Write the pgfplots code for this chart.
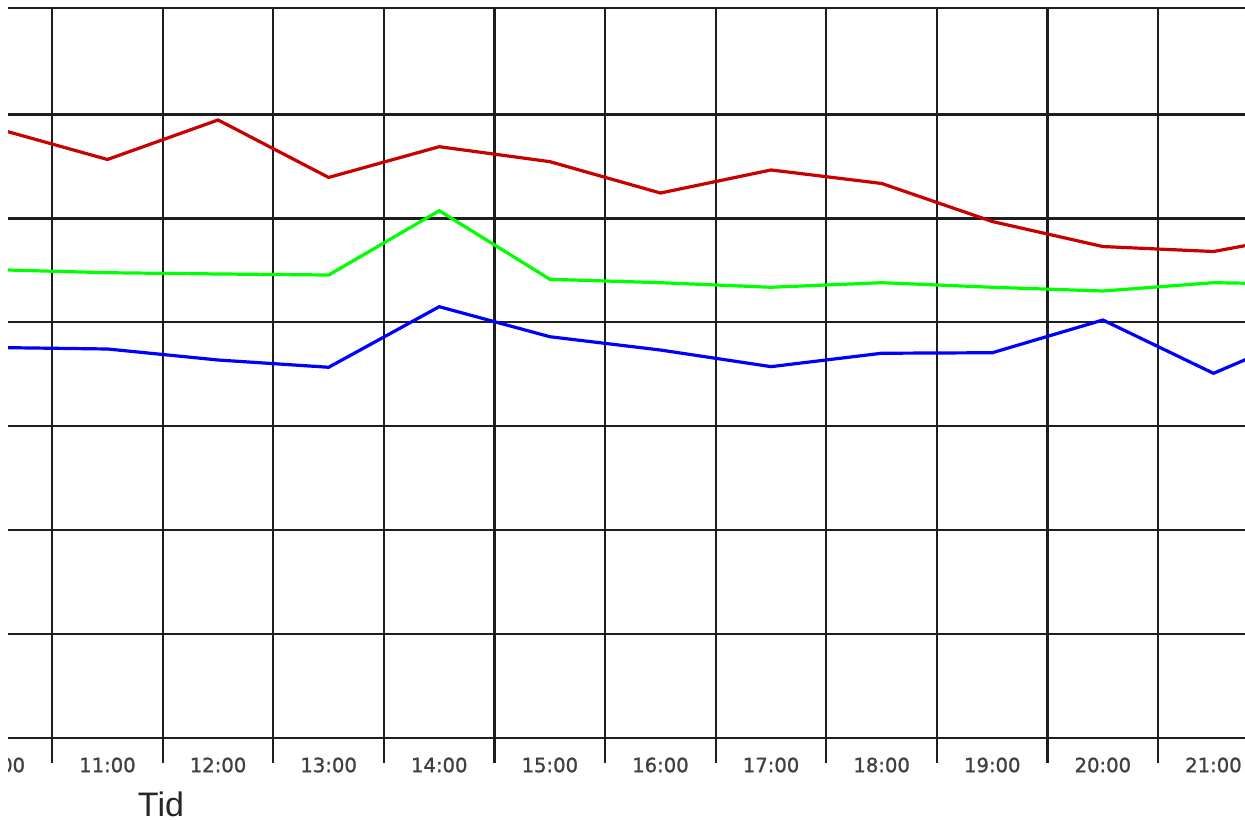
\documentclass[border=0pt]{standalone}
\usepackage{pgfplots}
\pgfplotsset{compat=1.18}
\usepackage{fontspec}
\setmainfont{DejaVu Sans}
\newfontfamily\tickfont[FakeBold=1.2]{DejaVu Sans}
\newfontfamily\labfont{Liberation Sans}
\definecolor{cred}{RGB}{200,0,0}
\definecolor{cgreen}{RGB}{0,255,0}
\definecolor{cblue}{RGB}{0,0,255}
\definecolor{cgrid}{RGB}{30,30,30}
\begin{document}
\begin{tikzpicture}
\useasboundingbox (7.1bp,-41bp) rectangle (629.6bp,369bp);
\clip (11.1bp,-41bp) rectangle (629.6bp,365.5bp);
\begin{axis}[
  at={(0,0)}, anchor=south west,
  x=55.3bp, y=51.95bp,
  xmin=9.9, xmax=22.5, ymin=0, ymax=7.023,
  xtick={10,...,22},
  xticklabels={10:00,11:00,12:00,13:00,14:00,15:00,16:00,17:00,18:00,19:00,20:00,21:00,22:00},
  minor xtick={10.5,11.5,...,21.5},
  ytick={0,...,6}, yticklabels={},
  major tick length=0pt, minor tick length=12.5bp, tick align=outside,
  xtick pos=left, ytick pos=left,
  xminorgrids=true, xmajorgrids=false, ymajorgrids=true,
  major grid style={cgrid, line width=1.1bp},
  minor grid style={cgrid, line width=1.1bp},
  minor tick style={cgrid, line width=1.1bp},
  axis line style={cgrid, line width=1.1bp},
  xticklabel style={font=\tickfont\fontsize{9.8bp}{11bp}\selectfont, anchor=center, yshift=-13.5bp, text=black!75},
  xlabel={Tid},
  xlabel style={at={(0.1257,0)}, anchor=center, yshift=-33.3bp, font=\labfont\fontsize{17bp}{19bp}\selectfont, text=black!85},
]
\addplot[cred, line width=1.6bp] coordinates {
(10,5.865) (11,5.568) (12,5.948) (13,5.395) (14,5.691) (15,5.547) (16,5.245)
(17,5.467) (18,5.337) (19,4.971) (20,4.730) (21,4.682) (22,4.880)};
\addplot[cgreen, line width=1.6bp] coordinates {
(10,4.507) (11,4.478) (12,4.466) (13,4.456) (14,5.075) (15,4.415) (16,4.382)
(17,4.338) (18,4.382) (19,4.338) (20,4.302) (21,4.382) (22,4.365)};
\addplot[cblue, line width=1.6bp] coordinates {
(10,3.758) (11,3.744) (12,3.638) (13,3.568) (14,4.151) (15,3.862) (16,3.734)
(17,3.574) (18,3.703) (19,3.708) (20,4.023) (21,3.510) (22,3.965)};
\end{axis}
\end{tikzpicture}
\end{document}
